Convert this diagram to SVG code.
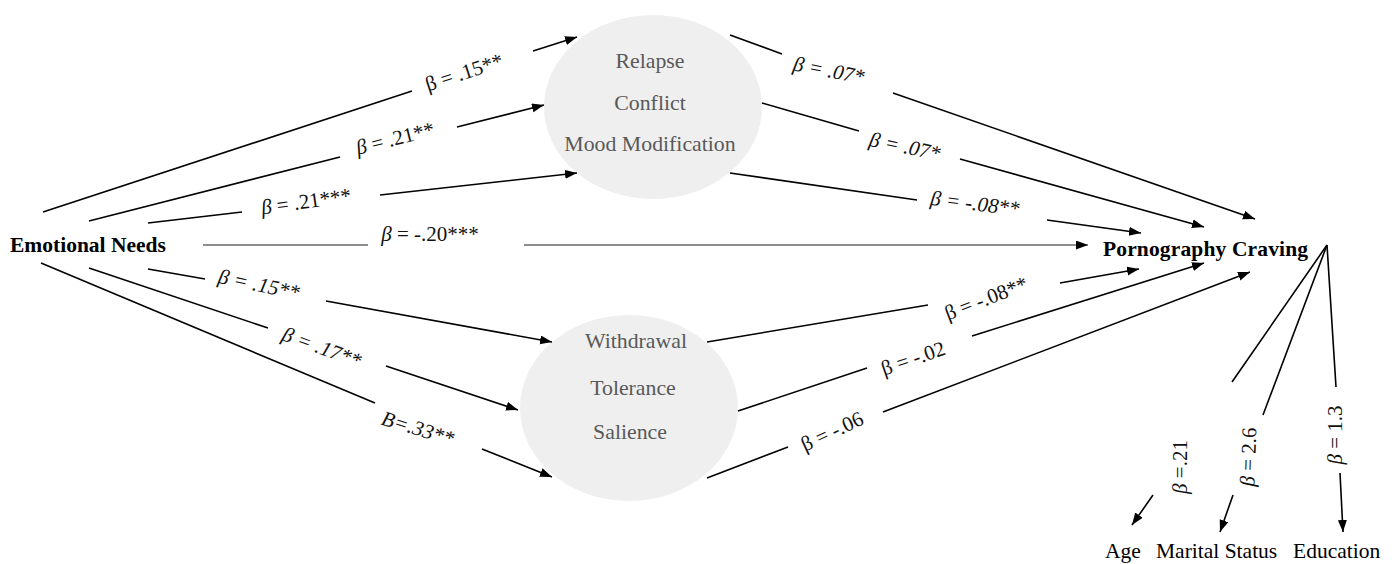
<svg xmlns="http://www.w3.org/2000/svg" width="1396" height="564" viewBox="0 0 1396 564">
<style>
.bold{font-family:"Liberation Serif","Times New Roman",serif;font-weight:bold;font-size:21.5px;fill:#000}
.plain{font-family:"Liberation Serif","Times New Roman",serif;font-size:21.5px;fill:#000}
.ell{fill:#efefef}
.et{font-family:"Liberation Serif","Times New Roman",serif;font-size:21.8px;fill:#595959;text-anchor:middle}
.edge{fill:none;stroke:#000;stroke-width:1.6;marker-end:url(#arr)}
.edge.gray{stroke:#6a6a6a}
.lbl{font-family:"Liberation Serif","Times New Roman",serif;font-size:21px;fill:#111;text-anchor:middle}
.it{font-style:italic}
</style>
<defs>
<marker id="arr" markerWidth="13" markerHeight="10" refX="12" refY="4.5" orient="auto" markerUnits="userSpaceOnUse">
<path d="M0,0 L12,4.5 L0,9 z" fill="#000"/>
</marker>
</defs>
<rect width="1396" height="564" fill="#fff"/>
<g id="node-e1">
<ellipse class="ell" cx="653" cy="107" rx="109" ry="92"/>
<text class="et" x="650" y="68">Relapse</text>
<text class="et" x="650" y="110">Conflict</text>
<text class="et" x="650" y="151">Mood Modification</text>
</g>
<g id="node-e2">
<ellipse class="ell" cx="629" cy="408" rx="109" ry="93"/>
<text class="et" x="636" y="348">Withdrawal</text>
<text class="et" x="633" y="395">Tolerance</text>
<text class="et" x="630" y="439">Salience</text>
</g>
<g id="node-emotional"><text class="bold" x="10" y="252">Emotional Needs</text></g>
<g id="node-pc"><text class="bold" x="1103" y="256" textLength="205">Pornography Craving</text></g>
<g id="node-age"><text class="plain" x="1105" y="558">Age</text></g>
<g id="node-marital"><text class="plain" x="1156" y="558">Marital Status</text></g>
<g id="node-education"><text class="plain" x="1293" y="558">Education</text></g>
<g id="connectors">
<path class="edge" d="M43,212 L412,91 M533,51 L577,37"/>
<path class="edge" d="M89,221 L340,157 M457,127 L544,105"/>
<path class="edge" d="M148,223 L242,212 M380,195 L577,173"/>
<path class="edge gray" d="M203,245 L368,245 M524,245 L1088,245"/>
<path class="edge" d="M148,269 L205,279 M326,301 L552,342"/>
<path class="edge" d="M89,268 L268,328 M386,366 L518,410"/>
<path class="edge" d="M41,263 L375,403 M482,449 L552,477"/>
<path class="edge" d="M730,35 L782,54 M893,93 L1255,219"/>
<path class="edge" d="M762,103 L859,131 M960,159 L1204,227"/>
<path class="edge" d="M730,173 L917,200 M1047,220 L1141,233"/>
<path class="edge" d="M707,342 L928,305 M1060,283 L1139,269"/>
<path class="edge" d="M738,411 L867,368 M972,336 L1204,263"/>
<path class="edge" d="M707,478 L788,447 M883,412 L1250,272"/>
<path class="edge" d="M1327,245 L1232,382 M1153,495 L1132,525"/>
<path class="edge" d="M1327,245 L1263,415 M1233,495 L1220,532"/>
<path class="edge" d="M1327,245 L1336,387 M1340,473 L1343,532"/>
</g>
<g id="labels">
<text class="lbl" transform="translate(464,72) rotate(-18)" dy="0.35em">β = .15**</text>
<text class="lbl" transform="translate(395,138) rotate(-14)" dy="0.35em"><tspan class="it">β</tspan> = .21**</text>
<text class="lbl" transform="translate(306,201) rotate(-8)" dy="0.35em"><tspan class="it">β</tspan> = .21***</text>
<text class="lbl" x="430" y="241"><tspan class="it">β</tspan> = -.20***</text>
<text class="lbl it" transform="translate(259,284) rotate(12)" dy="0.35em">β = .15**</text>
<text class="lbl it" transform="translate(322,347) rotate(20)" dy="0.35em">β = .17**</text>
<text class="lbl it" transform="translate(418,428) rotate(17)" dy="0.35em">B=.33**</text>
<text class="lbl it" transform="translate(829,70) rotate(11)" dy="0.35em">β = .07*</text>
<text class="lbl it" transform="translate(905,146) rotate(12)" dy="0.35em">β = .07*</text>
<text class="lbl it" transform="translate(975,203) rotate(7)" dy="0.35em">β = -.08**</text>
<text class="lbl" transform="translate(986,298) rotate(-21)" dy="0.35em">β = -.08**</text>
<text class="lbl" transform="translate(913,358) rotate(-19)" dy="0.35em">β = -.02</text>
<text class="lbl" transform="translate(832,431) rotate(-25)" dy="0.35em">β = -.06</text>
<text class="lbl" transform="translate(1180,467) rotate(-90)" dy="0.35em"><tspan class="it">β</tspan> =.21</text>
<text class="lbl" transform="translate(1248,457) rotate(-88)" dy="0.35em"><tspan class="it">β</tspan> = 2.6</text>
<text class="lbl" transform="translate(1335,435) rotate(-90)" dy="0.35em"><tspan class="it">β</tspan> = 1.3</text>
</g>
</svg>
